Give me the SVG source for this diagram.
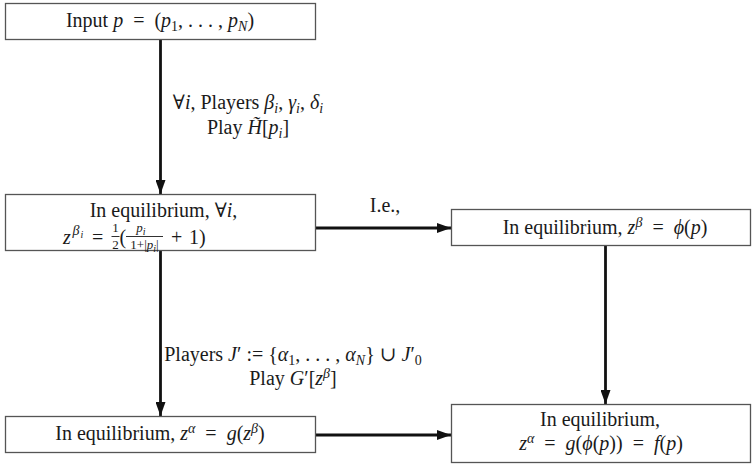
<svg xmlns="http://www.w3.org/2000/svg" width="753" height="468" viewBox="0 0 753 468" font-family="Liberation Serif, DejaVu Serif, serif">
<defs>
<style>
text{font-family:"Liberation Serif","DejaVu Serif",serif;font-size:20px;fill:#1a1a1a}
.m{text-anchor:middle}
.i{font-style:italic}
.box{fill:#fff;stroke:#555;stroke-width:1.3}
.c{stroke:#111;stroke-width:2.8;fill:none}
.s{font-size:14px}
.f{font-size:13px}
.bar{stroke:#1a1a1a;stroke-width:0.9}
</style>
<marker id="ah" viewBox="0 0 14 10" refX="14" refY="5" markerWidth="14" markerHeight="10" markerUnits="userSpaceOnUse" orient="auto">
<path d="M0,0 L14,5 L0,10 Z" fill="#111"/>
</marker>
</defs>
<rect width="753" height="468" fill="#fff"/>
<g id="connectors">
<line class="c" x1="160.5" y1="40" x2="160.5" y2="194" marker-end="url(#ah)"/>
<line class="c" x1="316" y1="228" x2="451" y2="228" marker-end="url(#ah)"/>
<line class="c" x1="160.5" y1="251" x2="160.5" y2="416" marker-end="url(#ah)"/>
<line class="c" x1="605.5" y1="246" x2="605.5" y2="404" marker-end="url(#ah)"/>
<line class="c" x1="316" y1="435" x2="451" y2="435" marker-end="url(#ah)"/>
<text x="248" y="109" class="m">∀<tspan class="i">i</tspan>, Players <tspan class="i">β</tspan><tspan class="s i" dy="4">i</tspan><tspan dy="-4">, </tspan><tspan class="i">γ</tspan><tspan class="s i" dy="4">i</tspan><tspan dy="-4">, </tspan><tspan class="i">δ</tspan><tspan class="s i" dy="4">i</tspan></text>
<text x="248" y="134" class="m">Play <tspan class="i">H̃</tspan>[<tspan class="i">p</tspan><tspan class="s i" dy="4">i</tspan><tspan dy="-4">]</tspan></text>
<text x="385" y="212" class="m">I.e.,</text>
<text x="293" y="361" class="m">Players <tspan class="i">J</tspan>′ := {<tspan class="i">α</tspan><tspan class="s" dy="4">1</tspan><tspan dy="-4">, . . . , </tspan><tspan class="i">α</tspan><tspan class="s i" dy="4">N</tspan><tspan dy="-4">} ∪ </tspan><tspan class="i">J</tspan>′<tspan class="s" dy="4">0</tspan></text>
<text x="293" y="385" class="m">Play <tspan class="i">G</tspan>′[<tspan class="i">z</tspan><tspan class="s i" dy="-7">β</tspan><tspan dy="7">]</tspan></text>
</g>
<g id="input">
<rect class="box" x="5.5" y="3.5" width="310" height="36"/>
<text x="160" y="27" class="m">Input <tspan class="i">p</tspan>&#160;&#160;=&#160;&#160;(<tspan class="i">p</tspan><tspan class="s" dy="4">1</tspan><tspan dy="-4">, . . . , </tspan><tspan class="i">p</tspan><tspan class="s i" dy="4">N</tspan><tspan dy="-4">)</tspan></text>
</g>
<g id="equilibrium-i">
<rect class="box" x="5.5" y="194.5" width="310" height="56"/>
<text x="163.5" y="217" class="m">In equilibrium, ∀<tspan class="i">i</tspan>,</text>
<text x="63" y="244" class="i">z</text>
<text x="72.5" y="235" class="s i">β</text>
<text x="80.5" y="238" class="i" style="font-size:10px">i</text>
<text x="92" y="244">=</text>
<text x="115.5" y="232" class="f m">1</text>
<line class="bar" x1="111.5" y1="236.5" x2="119.5" y2="236.5"/>
<text x="115.5" y="249" class="f m">2</text>
<text x="119.5" y="244">(</text>
<text x="141" y="232" class="f m"><tspan class="i">p</tspan><tspan dy="3" style="font-size:10px" class="i">i</tspan></text>
<line class="bar" x1="126" y1="236.5" x2="163" y2="236.5"/>
<text x="144.5" y="249" class="f m">1+|<tspan class="i">p</tspan><tspan dy="3" style="font-size:10px" class="i">i</tspan><tspan dy="-3">|</tspan></text>
<text x="171" y="244">+</text>
<text x="189" y="244">1)</text>
</g>
<g id="equilibrium-beta">
<rect class="box" x="451.5" y="209.5" width="299" height="36"/>
<text x="605" y="234" class="m">In equilibrium, <tspan class="i">z</tspan><tspan class="s i" dy="-7">β</tspan><tspan dy="7">&#160;&#160;=&#160;&#160;</tspan><tspan class="i">ϕ</tspan>(<tspan class="i">p</tspan>)</text>
</g>
<g id="equilibrium-alpha">
<rect class="box" x="5.5" y="416.5" width="310" height="36"/>
<text x="160" y="440" class="m">In equilibrium, <tspan class="i">z</tspan><tspan class="s i" dy="-7">α</tspan><tspan dy="7">&#160;&#160;=&#160;&#160;</tspan><tspan class="i">g</tspan>(<tspan class="i">z</tspan><tspan class="s i" dy="-7">β</tspan><tspan dy="7">)</tspan></text>
</g>
<g id="result">
<rect class="box" x="451.5" y="404.5" width="299" height="58"/>
<text x="600" y="426" class="m">In equilibrium,</text>
<text x="601" y="450" class="m"><tspan class="i">z</tspan><tspan class="s i" dy="-7">α</tspan><tspan dy="7">&#160;&#160;=&#160;&#160;</tspan><tspan class="i">g</tspan>(<tspan class="i">ϕ</tspan>(<tspan class="i">p</tspan>))&#160;&#160;=&#160;&#160;<tspan class="i">f</tspan>(<tspan class="i">p</tspan>)</text>
</g>
</svg>
